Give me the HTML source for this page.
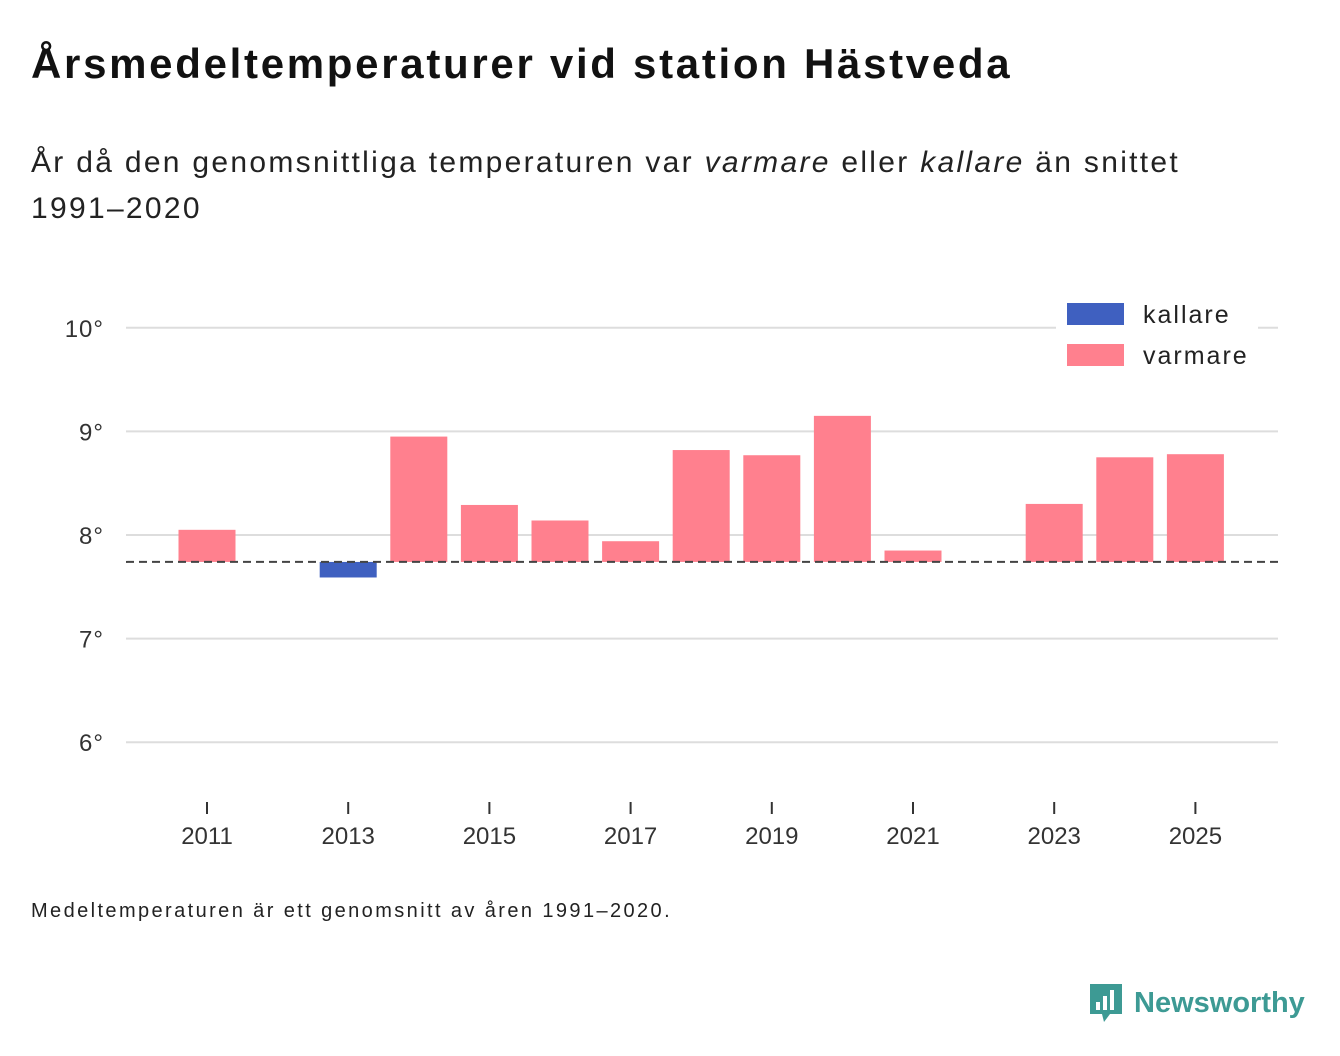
<!DOCTYPE html>
<html><head><meta charset="utf-8"><style>
body{margin:0;background:#fff;width:1340px;height:1056px;overflow:hidden;font-family:"Liberation Sans","DejaVu Sans",sans-serif;color:#111}
#title{position:absolute;left:31px;top:40px;font-size:42px;font-weight:bold;margin:0;letter-spacing:2.7px}
#sub{position:absolute;left:31px;top:140px;font-size:30px;line-height:46px;width:1290px;color:#222;letter-spacing:2.3px}
#note{position:absolute;left:31px;top:900px;font-size:20px;color:#222;letter-spacing:2.4px}
#logo{position:absolute;left:1088px;top:982px;display:flex;align-items:center;gap:10px;color:#3d9a94;font-size:29px;font-weight:bold}
svg{position:absolute;left:0;top:0}
</style></head><body>
<h1 id="title">Årsmedeltemperaturer vid station Hästveda</h1>
<div id="sub">År då den genomsnittliga temperaturen var <i>varmare</i> eller <i>kallare</i> än snittet<br>1991–2020</div>
<svg id="chart" width="1340" height="1056"></svg>
<div id="note">Medeltemperaturen är ett genomsnitt av åren 1991–2020.</div>
<div id="logo"><svg style="position:static" width="36" height="42" viewBox="0 0 36 42"><path d="M2 2h32v30H22l-6 8-2-8H2z" fill="#3d9a94"/><rect x="8" y="20" width="4" height="8" fill="#fff"/><rect x="15" y="14" width="4" height="14" fill="#fff"/><rect x="22" y="8" width="4" height="20" fill="#fff"/></svg><span>Newsworthy</span></div>
<script>
const years=[2011,2013,2014,2015,2016,2017,2018,2019,2020,2021,2023,2024,2025];
const temps=[8.05,7.59,8.95,8.29,8.14,7.94,8.82,8.77,9.15,7.85,8.30,8.75,8.78];
const baseline=7.74;
const yTicks=[6,7,8,9,10];
const xTicks=[2011,2013,2015,2017,2019,2021,2023,2025];
const svg=document.getElementById('chart');const NS='http://www.w3.org/2000/svg';
const y=v=>535-(v-8)*103.6;
const x=yr=>207+(yr-2011)*70.6;
function mk(t,a,txt){const e=document.createElementNS(NS,t);for(const k in a)e.setAttribute(k,a[k]);if(txt!==undefined)e.textContent=txt;svg.appendChild(e);return e;}
yTicks.forEach(v=>{
 const l=mk('line',{x1:126,x2:1278,y1:y(v),y2:y(v),stroke:'#ddd','stroke-width':2});
 
 
 const t=mk('text',{x:104,y:y(v)+9,'text-anchor':'end','font-size':24,fill:'#333','letter-spacing':1},v+'°');
 
 
});
xTicks.forEach(yr=>{
 const l=mk('line',{x1:x(yr),x2:x(yr),y1:802,y2:814,stroke:'#333','stroke-width':2});
 
 
 const t=mk('text',{x:x(yr),y:844,'text-anchor':'middle','font-size':24,fill:'#333'},yr);
 
 
});
years.forEach((yr,i)=>{
 const v=temps[i];const top=y(Math.max(v,baseline)),bot=y(Math.min(v,baseline));
 const r=mk('rect',{x:x(yr)-28.5,y:top,width:57,height:bot-top,fill:v<baseline?'#3f60c0':'#ff808e'});
 
 
});
const b=mk('line',{x1:126,x2:1278,y1:y(baseline),y2:y(baseline),stroke:'#444','stroke-width':2,'stroke-dasharray':'8,5'});


const lg=mk('rect',{x:1056,y:292,width:202,height:86,fill:'#fff'});


[['kallare','#3f60c0',303],['varmare','#ff808e',344]].forEach(([n,c,yy])=>{
 const r=mk('rect',{x:1067,y:yy,width:57,height:22,fill:c});
 
 
 const t=mk('text',{x:1143,y:yy+20,'font-size':25,fill:'#222','letter-spacing':2},n);
 
 
});
</script>
</body></html>
